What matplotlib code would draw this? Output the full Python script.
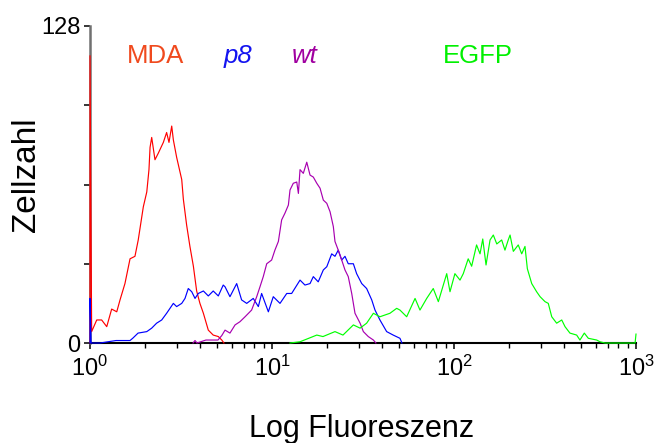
import numpy as np
import matplotlib
matplotlib.use("Agg")
import matplotlib.pyplot as plt
from matplotlib.ticker import LogLocator, NullFormatter

plt.rcParams["font.family"] = ["Liberation Sans", "DejaVu Sans"]

# Fluorescence given as decade exponents (log10), counts per channel
mda_exp = [0.0, 0.0, 0.009, 0.037, 0.064, 0.092, 0.119, 0.147, 0.165, 0.192, 0.220, 0.247,
           0.265, 0.293, 0.312, 0.324, 0.330, 0.339, 0.357, 0.375, 0.403, 0.421, 0.434,
           0.449, 0.458, 0.476, 0.504, 0.513, 0.531, 0.549, 0.568, 0.586, 0.604, 0.623,
           0.650, 0.677, 0.705, 0.724, 0.736]
mda_cnt = [0, 116, 4.6, 9.3, 9.3, 6.6, 13.7, 12.6, 17.4, 24, 34, 35,
           41.6, 55, 61, 70, 79, 83, 74, 76.6, 81, 85, 81,
           87.6, 82, 75, 66, 58, 47.6, 39, 31, 21, 16, 12,
           5.2, 3.2, 2.6, 1.2, 0]

p8_exp = [0.0, 0.0, 0.006, 0.055, 0.143, 0.220, 0.236, 0.264, 0.312, 0.339, 0.366, 0.394,
          0.421, 0.458, 0.476, 0.504, 0.522, 0.540, 0.559, 0.577, 0.595, 0.623, 0.650,
          0.677, 0.705, 0.732, 0.742, 0.769, 0.806, 0.833, 0.861, 0.897, 0.925, 0.943,
          0.980, 1.007, 1.044, 1.081, 1.108, 1.154, 1.181, 1.209, 1.227, 1.254, 1.282,
          1.301, 1.328, 1.346, 1.364, 1.383, 1.401, 1.419, 1.447, 1.465, 1.493, 1.520,
          1.548, 1.566, 1.593, 1.630, 1.666, 1.703, 1.714]
p8_cnt = [0, 18, 0, 0, 1, 1, 2, 4, 4.6, 6, 8, 9.3,
          12, 16, 14.7, 16, 18, 22, 20.7, 18, 20, 21, 19,
          21, 19, 23.4, 22.7, 18.7, 24, 17.4, 16, 18, 14.7, 20,
          12.6, 18.7, 16, 20, 20, 25.4, 23.4, 24, 26.8, 24.7, 29.5,
          30.8, 36, 35, 37.5, 33.5, 35, 32, 32, 28, 24, 22,
          17.4, 13.3, 9.3, 4.6, 3.2, 1.9, 0]

wt_exp = [0.566, 0.577, 0.588, 0.637, 0.703, 0.724, 0.742, 0.769, 0.797, 0.824, 0.852,
          0.888, 0.916, 0.934, 0.952, 0.971, 0.998, 1.016, 1.035, 1.053, 1.071, 1.090,
          1.099, 1.117, 1.136, 1.145, 1.154, 1.172, 1.191, 1.209, 1.227, 1.246, 1.264,
          1.282, 1.301, 1.319, 1.337, 1.346, 1.364, 1.383, 1.401, 1.419, 1.438, 1.456,
          1.484, 1.502, 1.529, 1.557, 1.571]
wt_cnt = [0, 1, 0, 1.2, 1.2, 3, 5.2, 4, 7.3, 8.6, 10.6,
          13.3, 18.7, 22.7, 26.8, 32, 33.5, 37.5, 41, 49.7, 52.4, 55.7,
          61.8, 64.5, 65, 60.4, 70, 68.5, 73, 67.8, 67, 64.5, 62.5,
          57.7, 56.4, 53, 47, 41, 37.5, 33.5, 29.5, 26.8, 20, 12,
          8, 4.6, 2.6, 1.2, 0]

egfp_exp = [1.099, 1.154, 1.246, 1.280, 1.346, 1.390, 1.447, 1.484, 1.520, 1.557, 1.593,
            1.648, 1.685, 1.703, 1.740, 1.786, 1.813, 1.850, 1.886, 1.914, 1.960, 1.978,
            2.005, 2.033, 2.051, 2.078, 2.097, 2.124, 2.143, 2.158, 2.176, 2.198, 2.216,
            2.235, 2.262, 2.280, 2.298, 2.308, 2.326, 2.353, 2.372, 2.390, 2.403, 2.427,
            2.454, 2.473, 2.500, 2.518, 2.537, 2.564, 2.592, 2.610, 2.637, 2.674, 2.692,
            2.716, 2.738, 2.784, 2.802, 2.830, 2.995, 3.0]
egfp_cnt = [0, 0.5, 3.2, 2.6, 4.6, 3.2, 7.3, 6, 8, 12, 10.6,
            12, 14, 13.3, 10.6, 18, 13.3, 18, 22, 16.7, 28, 20.7,
            28, 25.4, 28, 34, 31, 39.6, 36, 42, 31.5, 41.6, 43.6,
            40, 41.6, 37.5, 41.6, 43.6, 37, 39.6, 36, 39, 30, 24,
            20.7, 18.7, 16.7, 16, 10.6, 8, 9.3, 6.6, 4, 3.2, 1.2,
            4, 1.9, 1.2, 0.5, 0, 0, 3.6]

series = [
    ("MDA", mda_exp, mda_cnt, "#ff0000", "#f04a1e", "normal", 1.6),
    ("p8", p8_exp, p8_cnt, "#0000ff", "#1414f0", "italic", 5.4),
    ("wt", wt_exp, wt_cnt, "#a800b0", "#a000a0", "italic", 12.9),
    ("EGFP", egfp_exp, egfp_cnt, "#00ff00", "#00f000", "normal", 87.0),
]

y_ticks = [0, 32, 64, 96, 128]
y_labels = ["0", "", "", "", "128"]

fig = plt.figure(figsize=(6.64, 4.43), dpi=100)
ax = fig.add_axes([90 / 664, 1 - 343 / 443, 546 / 664, 317 / 443])

for name, ex, cnt, lc, tc, style, tx in series:
    ax.plot(10 ** np.asarray(ex), cnt, color=lc, lw=0.85, clip_on=False, zorder=3)
    ax.text(tx, 113, name, color=tc, fontsize=18.5, fontstyle=style,
            ha="left", va="baseline")

ax.set_xscale("log")
ax.set_xlim(1, 1000)
ax.set_ylim(0, 128)
ax.set_yticks(y_ticks)
ax.set_yticklabels(y_labels)
ax.xaxis.set_major_locator(LogLocator(base=10, numticks=10))
ax.xaxis.set_minor_locator(LogLocator(base=10, subs=np.arange(2, 10), numticks=30))
ax.xaxis.set_minor_formatter(NullFormatter())

for s in ("top", "right"):
    ax.spines[s].set_visible(False)
ax.spines["left"].set_color("#707070")
ax.spines["left"].set_linewidth(1.8)
ax.spines["bottom"].set_color("#000000")
ax.spines["bottom"].set_linewidth(1.5)

ax.tick_params(axis="both", which="major", direction="out", length=4, width=1.1,
               labelsize=17, colors="#000000")
ax.tick_params(axis="y", which="major", pad=3)
ax.tick_params(axis="x", which="major", pad=5.5)
ax.tick_params(axis="x", which="minor", direction="out", length=3.5, width=1.0)

fig.text(26 / 664, 1 - 175 / 443, "Zellzahl", rotation=90, fontsize=24,
         ha="center", va="center")
fig.text(362 / 664, 1 - 436.5 / 443, "Log Fluoreszenz", fontsize=22,
         ha="center", va="baseline")

fig.savefig("out.png", dpi=100)
